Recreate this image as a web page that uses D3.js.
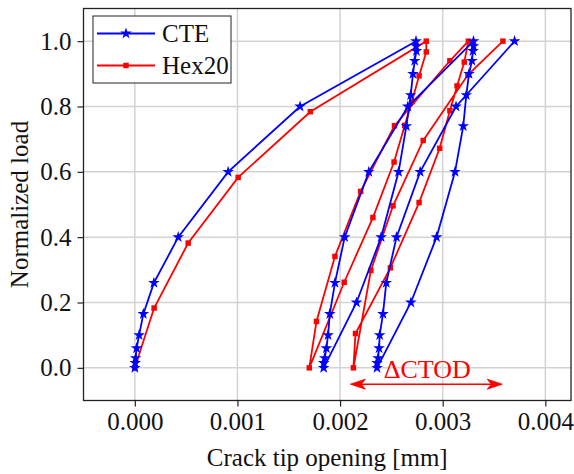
<!DOCTYPE html>
<html>
<head>
<meta charset="utf-8">
<script src="https://cdn.jsdelivr.net/npm/d3@7"></script>
<style>
  body { margin: 0; background: #fff; }
</style>
</head>
<body>
<div id="chart"></div>
<script>
// load steps (normalized load) used by the CTE model
var loadUp = [0, 0.015, 0.03, 0.06, 0.10, 0.165, 0.26, 0.40, 0.60, 0.80, 1.0];
var loadDown = [1.0, 0.985, 0.97, 0.94, 0.90, 0.835, 0.74, 0.60, 0.40, 0.20, 0];

// CTE crack tip opening [mm] per branch
var cteLoad1 = [0, 0.000004, 0.000008, 0.000017, 0.000042, 0.000083, 0.000186, 0.000423, 0.000909, 0.00161, 0.00274];
var cteUnload1 = [0.00274, 0.00274, 0.002744, 0.002727, 0.00271, 0.002688, 0.002646, 0.00257, 0.0024, 0.00216, 0.00184];
var cteLoad2 = [0.00184, 0.00184, 0.00185, 0.001867, 0.001883, 0.0019, 0.00195, 0.002045, 0.00228, 0.00266, 0.0033];
var cteUnload2 = [0.0033, 0.0033, 0.003295, 0.003285, 0.003256, 0.00323, 0.0032, 0.00312, 0.00294, 0.00269, 0.00236];
var cteLoad3 = [0.00236, 0.00236, 0.00237, 0.00238, 0.002386, 0.002418, 0.00245, 0.00255, 0.00278, 0.00313, 0.0037];

// Hex20 points (load, opening)
var hexLoad = [0, 0.183, 0.382, 0.583, 0.784, 1.0,
    0.967, 0.894, 0.815, 0.742, 0.63, 0.46, 0.262, 0,
    0.142, 0.341, 0.54, 0.741, 0.94, 1.0,
    0.936, 0.863, 0.787, 0.672, 0.506, 0.306, 0.105, 0,
    0.298, 0.496, 0.696, 0.897, 1.0];
var hexOpening = [0, 0.000188, 0.00052, 0.001007, 0.00171, 0.00284,
    0.00284, 0.00277, 0.0027, 0.00263, 0.002526, 0.00232, 0.00204, 0.0017,
    0.00177, 0.00195, 0.0022, 0.00253, 0.00307, 0.00325,
    0.00321, 0.00314, 0.00307, 0.00297, 0.00277, 0.00249, 0.00215, 0.00213,
    0.0023, 0.002516, 0.00281, 0.003246, 0.003587];

var xTicks = [0, 0.001, 0.002, 0.003, 0.004];
var yTicks = [0, 0.2, 0.4, 0.6, 0.8, 1.0];
var deltaCtod = [0.0021, 0.00358];

var FONT = "'Liberation Serif'";
var width = 574, height = 474;
var svg = d3.select("#chart").append("svg")
    .attr("width", width)
    .attr("height", height);

var x = d3.scaleLinear().domain([-0.0005, 0.00425]).range([83.5, 571]);
var y = d3.scaleLinear().domain([-0.1, 1.1]).range([400.5, 8.5]);

function zip(xs, ys) {
    return xs.map(function(v, i) { return [v, ys[i]]; });
}

var cteY = loadUp.concat(loadDown.slice(1), loadUp.slice(1), loadDown.slice(1), loadUp.slice(1));
var cteX = cteLoad1.concat(cteUnload1.slice(1), cteLoad2.slice(1), cteUnload2.slice(1), cteLoad3.slice(1));
var ctePts = zip(cteX, cteY);
var hexPts = zip(hexOpening, hexLoad);

// grid
var grid = svg.append("g").attr("stroke", "#d3d3d3").attr("stroke-width", 1.5);
grid.selectAll(".gx").data(xTicks).enter().append("line")
    .attr("x1", function(d) { return x(d); }).attr("x2", function(d) { return x(d); })
    .attr("y1", y.range()[0]).attr("y2", y.range()[1]);
grid.selectAll(".gy").data(yTicks).enter().append("line")
    .attr("y1", function(d) { return y(d); }).attr("y2", function(d) { return y(d); })
    .attr("x1", x.range()[0]).attr("x2", x.range()[1]);

// axes
var xAxis = svg.append("g")
    .attr("transform", "translate(0," + y.range()[0] + ")")
    .call(d3.axisBottom(x).tickValues(xTicks).tickFormat(d3.format(".3f")).tickSize(6).tickPadding(6));
var yAxis = svg.append("g")
    .attr("transform", "translate(" + x.range()[0] + ",0)")
    .call(d3.axisLeft(y).tickValues(yTicks).tickFormat(d3.format(".1f")).tickSize(6).tickPadding(6));
[xAxis, yAxis].forEach(function(a) {
    a.attr("font-family", null).attr("font-size", null);
    a.select(".domain").remove();
    a.selectAll(".tick line").attr("stroke", "#222").attr("stroke-width", 1.2);
    a.selectAll(".tick text").attr("fill", "#111")
        .style("font-family", FONT).style("font-size", "25px");
});

// lines
var line = d3.line().x(function(d) { return x(d[0]); }).y(function(d) { return y(d[1]); });
var plot = svg.append("g");

plot.append("path").datum(hexPts)
    .attr("d", line).attr("fill", "none").attr("stroke", "#ff0000").attr("stroke-width", 1.8);
plot.selectAll(".sq").data(hexPts).enter().append("path")
    .attr("d", d3.symbol().type(d3.symbolSquare).size(30))
    .attr("transform", function(d) { return "translate(" + x(d[0]) + "," + y(d[1]) + ")"; })
    .attr("fill", "#ff0000");

plot.append("path").datum(ctePts)
    .attr("d", line).attr("fill", "none").attr("stroke", "#0000ff").attr("stroke-width", 1.8);
plot.selectAll(".st").data(ctePts).enter().append("path")
    .attr("d", d3.symbol().type(d3.symbolStar).size(42))
    .attr("transform", function(d) { return "translate(" + x(d[0]) + "," + y(d[1]) + ")"; })
    .attr("fill", "#0000ff");

// delta CTOD annotation
var ay = y(-0.05), ax0 = x(deltaCtod[0]), ax1 = x(deltaCtod[1]);
var ann = svg.append("g").attr("fill", "#ff0000").attr("stroke", "#ff0000");
ann.append("line").attr("x1", ax0 + 4).attr("x2", ax1 - 4).attr("y1", ay).attr("y2", ay).attr("stroke-width", 1.5);
ann.append("path").attr("stroke-width", 0.8)
    .attr("d", "M" + ax0 + "," + ay + "L" + (ax0 + 15) + "," + (ay - 5) + "L" + (ax0 + 11) + "," + ay + "L" + (ax0 + 15) + "," + (ay + 5) + "Z");
ann.append("path").attr("stroke-width", 0.8)
    .attr("d", "M" + ax1 + "," + ay + "L" + (ax1 - 15) + "," + (ay - 5) + "L" + (ax1 - 11) + "," + ay + "L" + (ax1 - 15) + "," + (ay + 5) + "Z");
svg.append("text")
    .attr("x", x(0.00285)).attr("y", y(-0.03))
    .attr("text-anchor", "middle").attr("fill", "#ff0000")
    .style("font-family", FONT).style("font-size", "26px")
    .text("\u0394CTOD");

// frame
svg.append("rect")
    .attr("x", x.range()[0]).attr("y", y.range()[1])
    .attr("width", x.range()[1] - x.range()[0]).attr("height", y.range()[0] - y.range()[1])
    .attr("fill", "none").attr("stroke", "#222").attr("stroke-width", 1.3);

// axis titles
svg.append("text")
    .attr("x", (x.range()[0] + x.range()[1]) / 2).attr("y", 466)
    .attr("text-anchor", "middle").attr("fill", "#111")
    .style("font-family", FONT).style("font-size", "25px")
    .text("Crack tip opening [mm]");
svg.append("text")
    .attr("transform", "translate(28," + (y.range()[0] + y.range()[1]) / 2 + ") rotate(-90)")
    .attr("text-anchor", "middle").attr("fill", "#111")
    .style("font-family", FONT).style("font-size", "25px")
    .text("Normalized load");

// legend
var legend = svg.append("g");
legend.append("rect")
    .attr("x", 93).attr("y", 16).attr("width", 138).attr("height", 67)
    .attr("fill", "#fff").attr("stroke", "#222").attr("stroke-width", 1);
var entries = [
    { name: "CTE", color: "#0000ff", symbol: d3.symbolStar, size: 42, yy: 33.5 },
    { name: "Hex20", color: "#ff0000", symbol: d3.symbolSquare, size: 30, yy: 65.5 }
];
entries.forEach(function(e) {
    legend.append("line").attr("x1", 97).attr("x2", 155).attr("y1", e.yy).attr("y2", e.yy)
        .attr("stroke", e.color).attr("stroke-width", 1.8);
    legend.append("path").attr("d", d3.symbol().type(e.symbol).size(e.size))
        .attr("transform", "translate(126," + e.yy + ")").attr("fill", e.color);
    legend.append("text").attr("x", 162).attr("y", e.yy + 8.5)
        .attr("fill", "#111")
        .style("font-family", FONT).style("font-size", "25px")
        .text(e.name);
});
</script>
</body>
</html>
